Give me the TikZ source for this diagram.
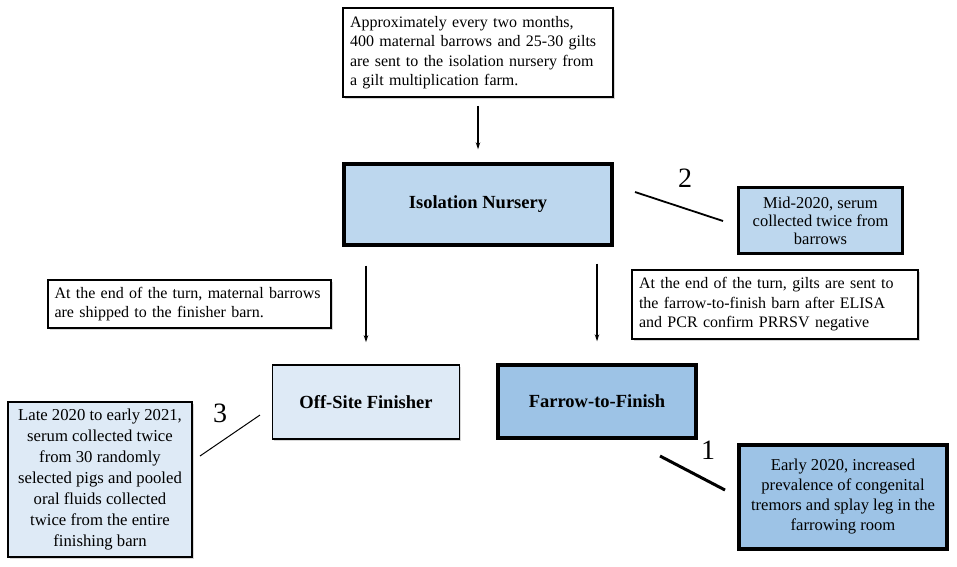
\documentclass[tikz,border=0pt]{standalone}
\usepackage{fontspec}
\setmainfont{Liberation Serif}
\usetikzlibrary{arrows.meta,shadows}
\definecolor{blueA}{HTML}{BDD7EE}
\definecolor{blueB}{HTML}{DEEAF6}
\definecolor{blueC}{HTML}{9DC3E6}
\tikzset{
  box/.style={draw=black, rectangle, inner sep=4pt, font=\fontsize{16}{19.5}\selectfont,
    drop shadow={shadow xshift=1.5pt, shadow yshift=-1.5pt, fill=black!30}},
  thin/.style={line width=1.2pt},
  thick3/.style={line width=3.4pt},
  title/.style={font=\fontsize{18.5}{22}\selectfont\bfseries},
  flow/.style={line width=1.5pt, -{Stealth[length=7pt,width=4.5pt]}},
  num/.style={font=\fontsize{28}{28}\selectfont, inner sep=0pt},
}
\begin{document}
\begin{tikzpicture}[x=1pt,y=-1pt]
\useasboundingbox (0,0) rectangle (957,566);
% top box
\node[box, line width=1.5pt, fill=white, minimum width=270pt, minimum height=89pt, align=left, text width=256pt] (top) at (478,52.5)
 {Approximately every two months,\\400 maternal barrows and 25-30 gilts\\are sent to the isolation nursery from\\a gilt multiplication farm.};
% isolation nursery
\node[box, thick3, fill=blueA, minimum width=268pt, minimum height=81pt, title] (iso) at (478,204.5) {Isolation Nursery};
% mid-2020
\node[box, line width=2.4pt, fill=blueA, minimum width=164pt, minimum height=66pt, align=center, font=\fontsize{16.5}{18}\selectfont] (mid) at (820.5,220.5)
 {Mid-2020, serum\\collected twice from\\barrows};
% left text
\node[box, thin, fill=white, minimum width=283pt, minimum height=48pt, align=left, text width=270pt] (ltxt) at (189.5,304)
 {At the end of the turn, maternal barrows\\are shipped to the finisher barn.};
% right text
\node[box, thin, fill=white, minimum width=286pt, minimum height=69pt, align=left, text width=272pt] (rtxt) at (775,304.5)
 {At the end of the turn, gilts are sent to\\the farrow-to-finish barn after ELISA\\and PCR confirm PRRSV negative};
% off-site finisher
\node[box, line width=1.5pt, fill=blueB, minimum width=187pt, minimum height=74pt, title] (off) at (366,402) {Off-Site Finisher};
% farrow-to-finish
\node[box, thick3, fill=blueC, minimum width=198pt, minimum height=73pt, title] (far) at (597,401.5) {Farrow-to-Finish};
% early 2020
\node[box, thick3, fill=blueC, minimum width=208pt, minimum height=104pt, align=center, font=\fontsize{16.6}{20}\selectfont] (early) at (843,497)
 {Early 2020, increased\\prevalence of congenital\\tremors and splay leg in the\\farrowing room};
% late 2020
\node[box, line width=1.5pt, fill=blueB, minimum width=184pt, minimum height=155pt, align=center, font=\fontsize{16.7}{21}\selectfont] (late) at (100,479.5)
 {Late 2020 to early 2021,\\serum collected twice\\from 30 randomly\\selected pigs and pooled\\oral fluids collected\\twice from the entire\\finishing barn};
% arrows
\draw[flow, shorten <=8pt, shorten >=13pt] (top.south) -- (iso.north);
\draw[flow, shorten <=19pt, shorten >=22pt] (off.north |- iso.south) -- (off.north);
\draw[flow, shorten <=17pt, shorten >=22pt] (far.north |- iso.south) -- (far.north);
% numbered ticks
\coordinate (t2a) at (635,192); \coordinate (t2b) at (723,221);
\draw[line width=1.8pt] (t2a) -- (t2b);
\node[num] (n2) at (685,178) {2};
\coordinate (t1a) at (660,456); \coordinate (t1b) at (725,490);
\draw[line width=3pt] (t1a) -- (t1b);
\node[num] (n1) at (708,450) {1};
\coordinate (t3a) at (200,456); \coordinate (t3b) at (260,415);
\draw[line width=1pt] (t3a) -- (t3b);
\node[num] (n3) at (220,413) {3};
\end{tikzpicture}
\end{document}
